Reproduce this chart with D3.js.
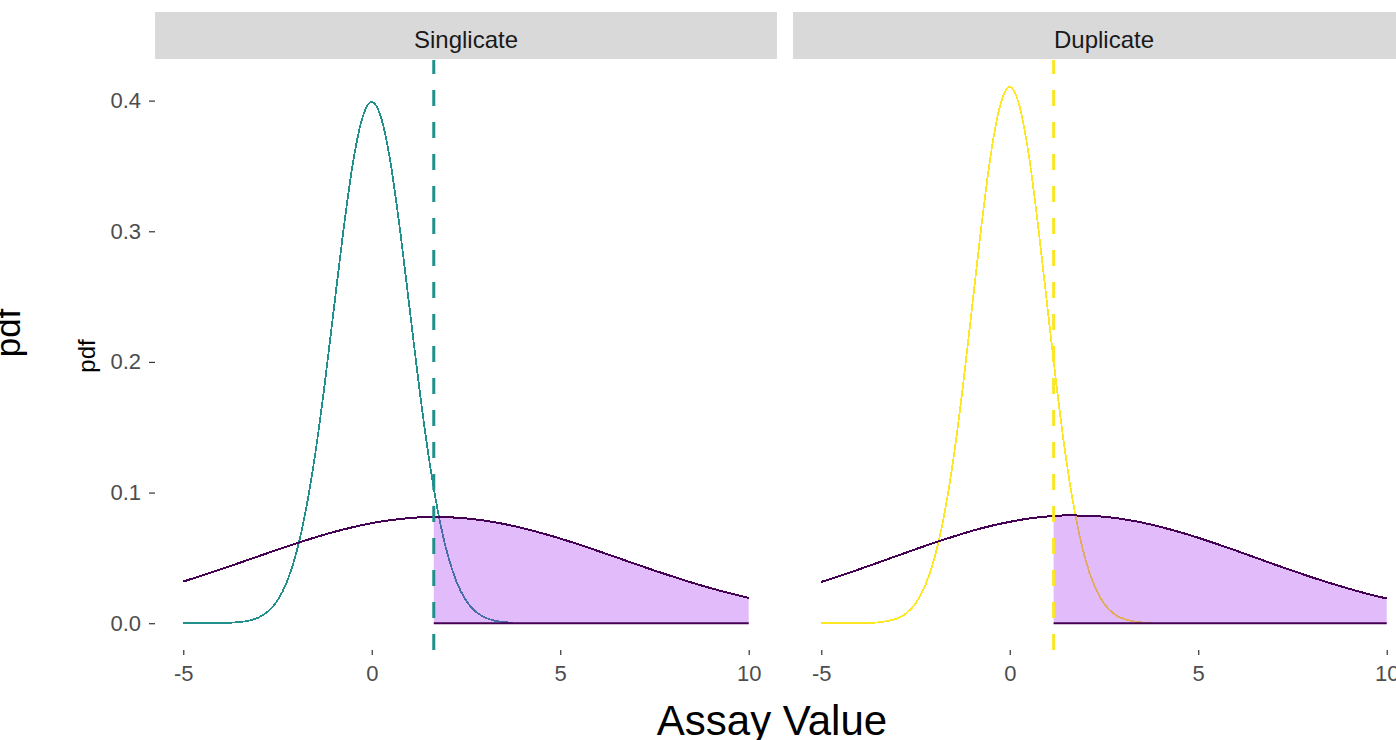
<!DOCTYPE html>
<html>
<head>
<meta charset="utf-8">
<script src="https://cdn.jsdelivr.net/npm/d3@7"></script>
<style>
  body { margin: 0; background: #fff; }
  svg { display: block; font-family: "Liberation Sans", Arial, sans-serif; }
</style>
</head>
<body>
<svg id="chart" width="1396" height="740"></svg>
<script>
// facet labels
const facets = ["Singlicate", "Duplicate"];

// x grid for the null curves
const nullX = [-5, -4.75, -4.5, -4.25, -4, -3.75, -3.5, -3.25, -3, -2.75, -2.5, -2.25,
  -2, -1.75, -1.5, -1.25, -1, -0.75, -0.5, -0.25, 0, 0.25, 0.5, 0.75,
  1, 1.25, 1.5, 1.75, 2, 2.25, 2.5, 2.75, 3, 3.25, 3.5, 3.75];
const singleNull = [0, 0, 0, 0, 0.0001, 0.0004, 0.0009, 0.0020, 0.0044, 0.0091, 0.0175, 0.0317,
  0.0540, 0.0863, 0.1295, 0.1826, 0.2420, 0.3011, 0.3521, 0.3867, 0.3989, 0.3867, 0.3521, 0.3011,
  0.2420, 0.1826, 0.1295, 0.0863, 0.0540, 0.0317, 0.0175, 0.0091, 0.0044, 0.0020, 0.0009, 0.0004];
const duplicateNull = [0, 0, 0, 0, 0.0001, 0.0002, 0.0006, 0.0016, 0.0035, 0.0075, 0.0151, 0.0283,
  0.0496, 0.0814, 0.1249, 0.1796, 0.2418, 0.3046, 0.3593, 0.3967, 0.4106, 0.3967, 0.3593, 0.3046,
  0.2418, 0.1796, 0.1249, 0.0814, 0.0496, 0.0283, 0.0151, 0.0075, 0.0035, 0.0016, 0.0006, 0.0002];

// x grid for the wide (alternative) curves
const altX = [-5, -4.5, -4, -3.5, -3, -2.5, -2, -1.5, -1, -0.5, 0, 0.5, 1, 1.5, 2, 2.5,
  3, 3.5, 4, 4.5, 5, 5.5, 6, 6.5, 7, 7.5, 8, 8.5, 9, 9.5, 10];
const singleAlt = [0.0319, 0.0365, 0.0413, 0.0463, 0.0513, 0.0563, 0.0611, 0.0657, 0.0699, 0.0735,
  0.0766, 0.0789, 0.0805, 0.0812, 0.0811, 0.0802, 0.0785, 0.0760, 0.0728, 0.0690, 0.0648,
  0.0602, 0.0553, 0.0503, 0.0453, 0.0403, 0.0356, 0.0310, 0.0268, 0.0229, 0.0194];
const duplicateAlt = [0.0316, 0.0362, 0.0412, 0.0463, 0.0515, 0.0566, 0.0616, 0.0663, 0.0707, 0.0745,
  0.0776, 0.0801, 0.0817, 0.0825, 0.0824, 0.0815, 0.0797, 0.0771, 0.0737, 0.0698, 0.0654,
  0.0606, 0.0556, 0.0504, 0.0452, 0.0402, 0.0353, 0.0307, 0.0264, 0.0224, 0.0189];

// cut-offs and the alt density there
const cutoffs = [1.645, 1.163];
const cutoffAlt = [0.0812, 0.0821];

const nullColors = ["#21908C", "#FDE725"];
const altColor = "#440154";
const shadeColor = "#A020F0";

const xTicks = [-5, 0, 5, 10];
const yTicks = [0, 0.1, 0.2, 0.3, 0.4];

const svg = d3.select("#chart");

const panelW = 622, panelTop = 60, panelBottom = 650;
const panelLeft = [155, 793];

const y = d3.scaleLinear()
    .domain([-0.0205, 0.4311])
    .range([panelBottom, panelTop]);

const nulls = [singleNull, duplicateNull];
const alts = [singleAlt, duplicateAlt];

facets.forEach(function(name, i) {
  const x0 = panelLeft[i];
  const x = d3.scaleLinear()
      .domain([-5.75, 10.75])
      .range([x0, x0 + panelW]);

  // strip
  svg.append("rect")
      .attr("x", x0).attr("y", 12)
      .attr("width", panelW).attr("height", 47)
      .attr("fill", "#D9D9D9");
  svg.append("text")
      .attr("x", x0 + panelW / 2).attr("y", 48)
      .attr("text-anchor", "middle")
      .attr("font-size", 24)
      .attr("fill", "#1A1A1A")
      .text(name);

  const line = d3.line()
      .x(function(d) { return x(d[0]); })
      .y(function(d) { return y(d[1]); })
      .curve(d3.curveMonotoneX);

  const nullPts = nullX.map(function(v, j) { return [v, nulls[i][j]]; });
  const altPts = altX.map(function(v, j) { return [v, alts[i][j]]; });
  const shadePts = [[cutoffs[i], cutoffAlt[i]]]
      .concat(altPts.filter(function(d) { return d[0] > cutoffs[i]; }));

  const g = svg.append("g");

  g.append("path")
      .datum(nullPts)
      .attr("d", line)
      .attr("fill", "none")
      .attr("stroke", nullColors[i])
      .attr("stroke-width", 1.8)
      .attr("shape-rendering", "crispEdges");

  g.append("path")
      .datum(altPts)
      .attr("d", line)
      .attr("fill", "none")
      .attr("stroke", altColor)
      .attr("stroke-width", 2)
      .attr("shape-rendering", "crispEdges");

  const area = d3.area()
      .x(function(d) { return x(d[0]); })
      .y0(y(0))
      .y1(function(d) { return y(d[1]); })
      .curve(d3.curveMonotoneX);

  g.append("path")
      .datum(shadePts)
      .attr("d", area)
      .attr("fill", shadeColor)
      .attr("fill-opacity", 0.3);

  // ribbon outlines: top and bottom
  g.append("path")
      .datum(shadePts)
      .attr("d", line)
      .attr("fill", "none")
      .attr("stroke", altColor)
      .attr("stroke-width", 2)
      .attr("shape-rendering", "crispEdges");
  g.append("line")
      .attr("x1", x(cutoffs[i])).attr("x2", x(10))
      .attr("y1", y(0)).attr("y2", y(0))
      .attr("stroke", altColor)
      .attr("stroke-width", 2);

  // cut-off line
  g.append("line")
      .attr("x1", x(cutoffs[i])).attr("x2", x(cutoffs[i]))
      .attr("y1", panelBottom).attr("y2", panelTop)
      .attr("stroke", nullColors[i])
      .attr("stroke-width", 3)
      .attr("stroke-dasharray", "16 16");

  // x axis
  const xa = svg.append("g")
      .attr("transform", "translate(0," + panelBottom + ")")
      .call(d3.axisBottom(x).tickValues(xTicks).tickSize(5).tickPadding(10)
        .tickFormat(function(d) { return String(d); }));
  xa.select(".domain").remove();
  xa.selectAll(".tick line").attr("stroke", "#333333").attr("stroke-width", 1.2);
  xa.selectAll(".tick text")
      .attr("font-size", 22)
      .attr("font-family", "Liberation Sans, Arial, sans-serif")
      .attr("fill", "#4D4D4D");
});

// y axis (left panel only)
const ya = svg.append("g")
    .attr("transform", "translate(" + panelLeft[0] + ",0)")
    .call(d3.axisLeft(y).tickValues(yTicks).tickSize(6).tickPadding(8).tickFormat(d3.format(".1f")));
ya.select(".domain").remove();
ya.selectAll(".tick line").attr("stroke", "#333333").attr("stroke-width", 1.2);
ya.selectAll(".tick text")
    .attr("font-size", 22)
    .attr("font-family", "Liberation Sans, Arial, sans-serif")
    .attr("fill", "#4D4D4D");

// axis titles
svg.append("text")
    .attr("transform", "translate(95,356) rotate(-90)")
    .attr("text-anchor", "middle")
    .attr("font-size", 24)
    .attr("fill", "#000")
    .text("pdf");

svg.append("text")
    .attr("transform", "translate(20,333) rotate(-90)")
    .attr("text-anchor", "middle")
    .attr("font-size", 35)
    .attr("fill", "#000")
    .text("pdf");

svg.append("text")
    .attr("x", 772).attr("y", 735)
    .attr("text-anchor", "middle")
    .attr("font-size", 42)
    .attr("fill", "#000")
    .text("Assay Value");
</script>
</body>
</html>
